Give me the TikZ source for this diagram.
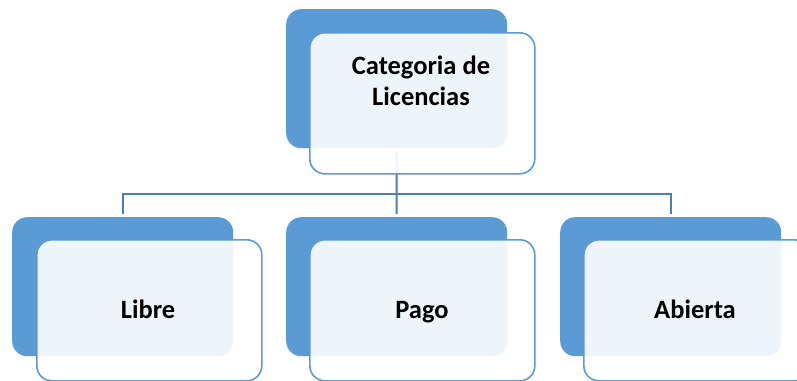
\documentclass[tikz,border=0pt]{standalone}
\usepackage{fontspec}
\setmainfont{Carlito}
\definecolor{backblue}{HTML}{5B9BD5}
\definecolor{connblue}{HTML}{4A7EBB}
\begin{document}
\begin{tikzpicture}[x=1pt,y=-1pt,
  backbox/.style={rectangle, rounded corners=15pt, fill=backblue, minimum width=221pt, minimum height=139pt, inner sep=0pt, anchor=north west},
  frontbox/.style={rectangle, rounded corners=15pt, draw=backblue, line width=1.6pt, fill=white, fill opacity=0.9, minimum width=225pt, minimum height=141pt, inner sep=0pt, anchor=north west},
  label/.style={font=\bfseries\fontsize{26.5}{30.5}\selectfont, text=black, align=center, inner sep=0pt},
  conn/.style={draw=connblue, line width=2pt}]
\useasboundingbox (0,0) rectangle (797,380);
% back boxes
\node[backbox] (topback) at (286,9) {};
\node[backbox] (libreback) at (12,217) {};
\node[backbox] (pagoback) at (286,217) {};
\node[backbox] (abiertaback) at (560,217) {};
% connectors
\coordinate (bus) at (396.5,194);
\draw[conn] ([yshift=-4pt]topback.south) -- (bus);
\draw[conn] ([yshift=3pt]libreback.north) |- (bus) -| ([yshift=3pt]abiertaback.north);
\draw[conn] (bus) -- ([yshift=3pt]pagoback.north);
% front boxes
\node[frontbox] (topfront) at (309,32) {};
\node[frontbox] (librefront) at (36,239) {};
\node[frontbox] (pagofront) at (309,239) {};
\node[frontbox] (abiertafront) at (583,239) {};
% texts
\node[label] (toptext) at (421,81) {Categoria de\\Licencias};
\node[label, anchor=base] (libretext) at (148,318) {Libre};
\node[label, anchor=base] (pagotext) at (422,318) {Pago};
\node[label, anchor=base] (abiertatext) at (695,318) {Abierta};
\end{tikzpicture}
\end{document}
